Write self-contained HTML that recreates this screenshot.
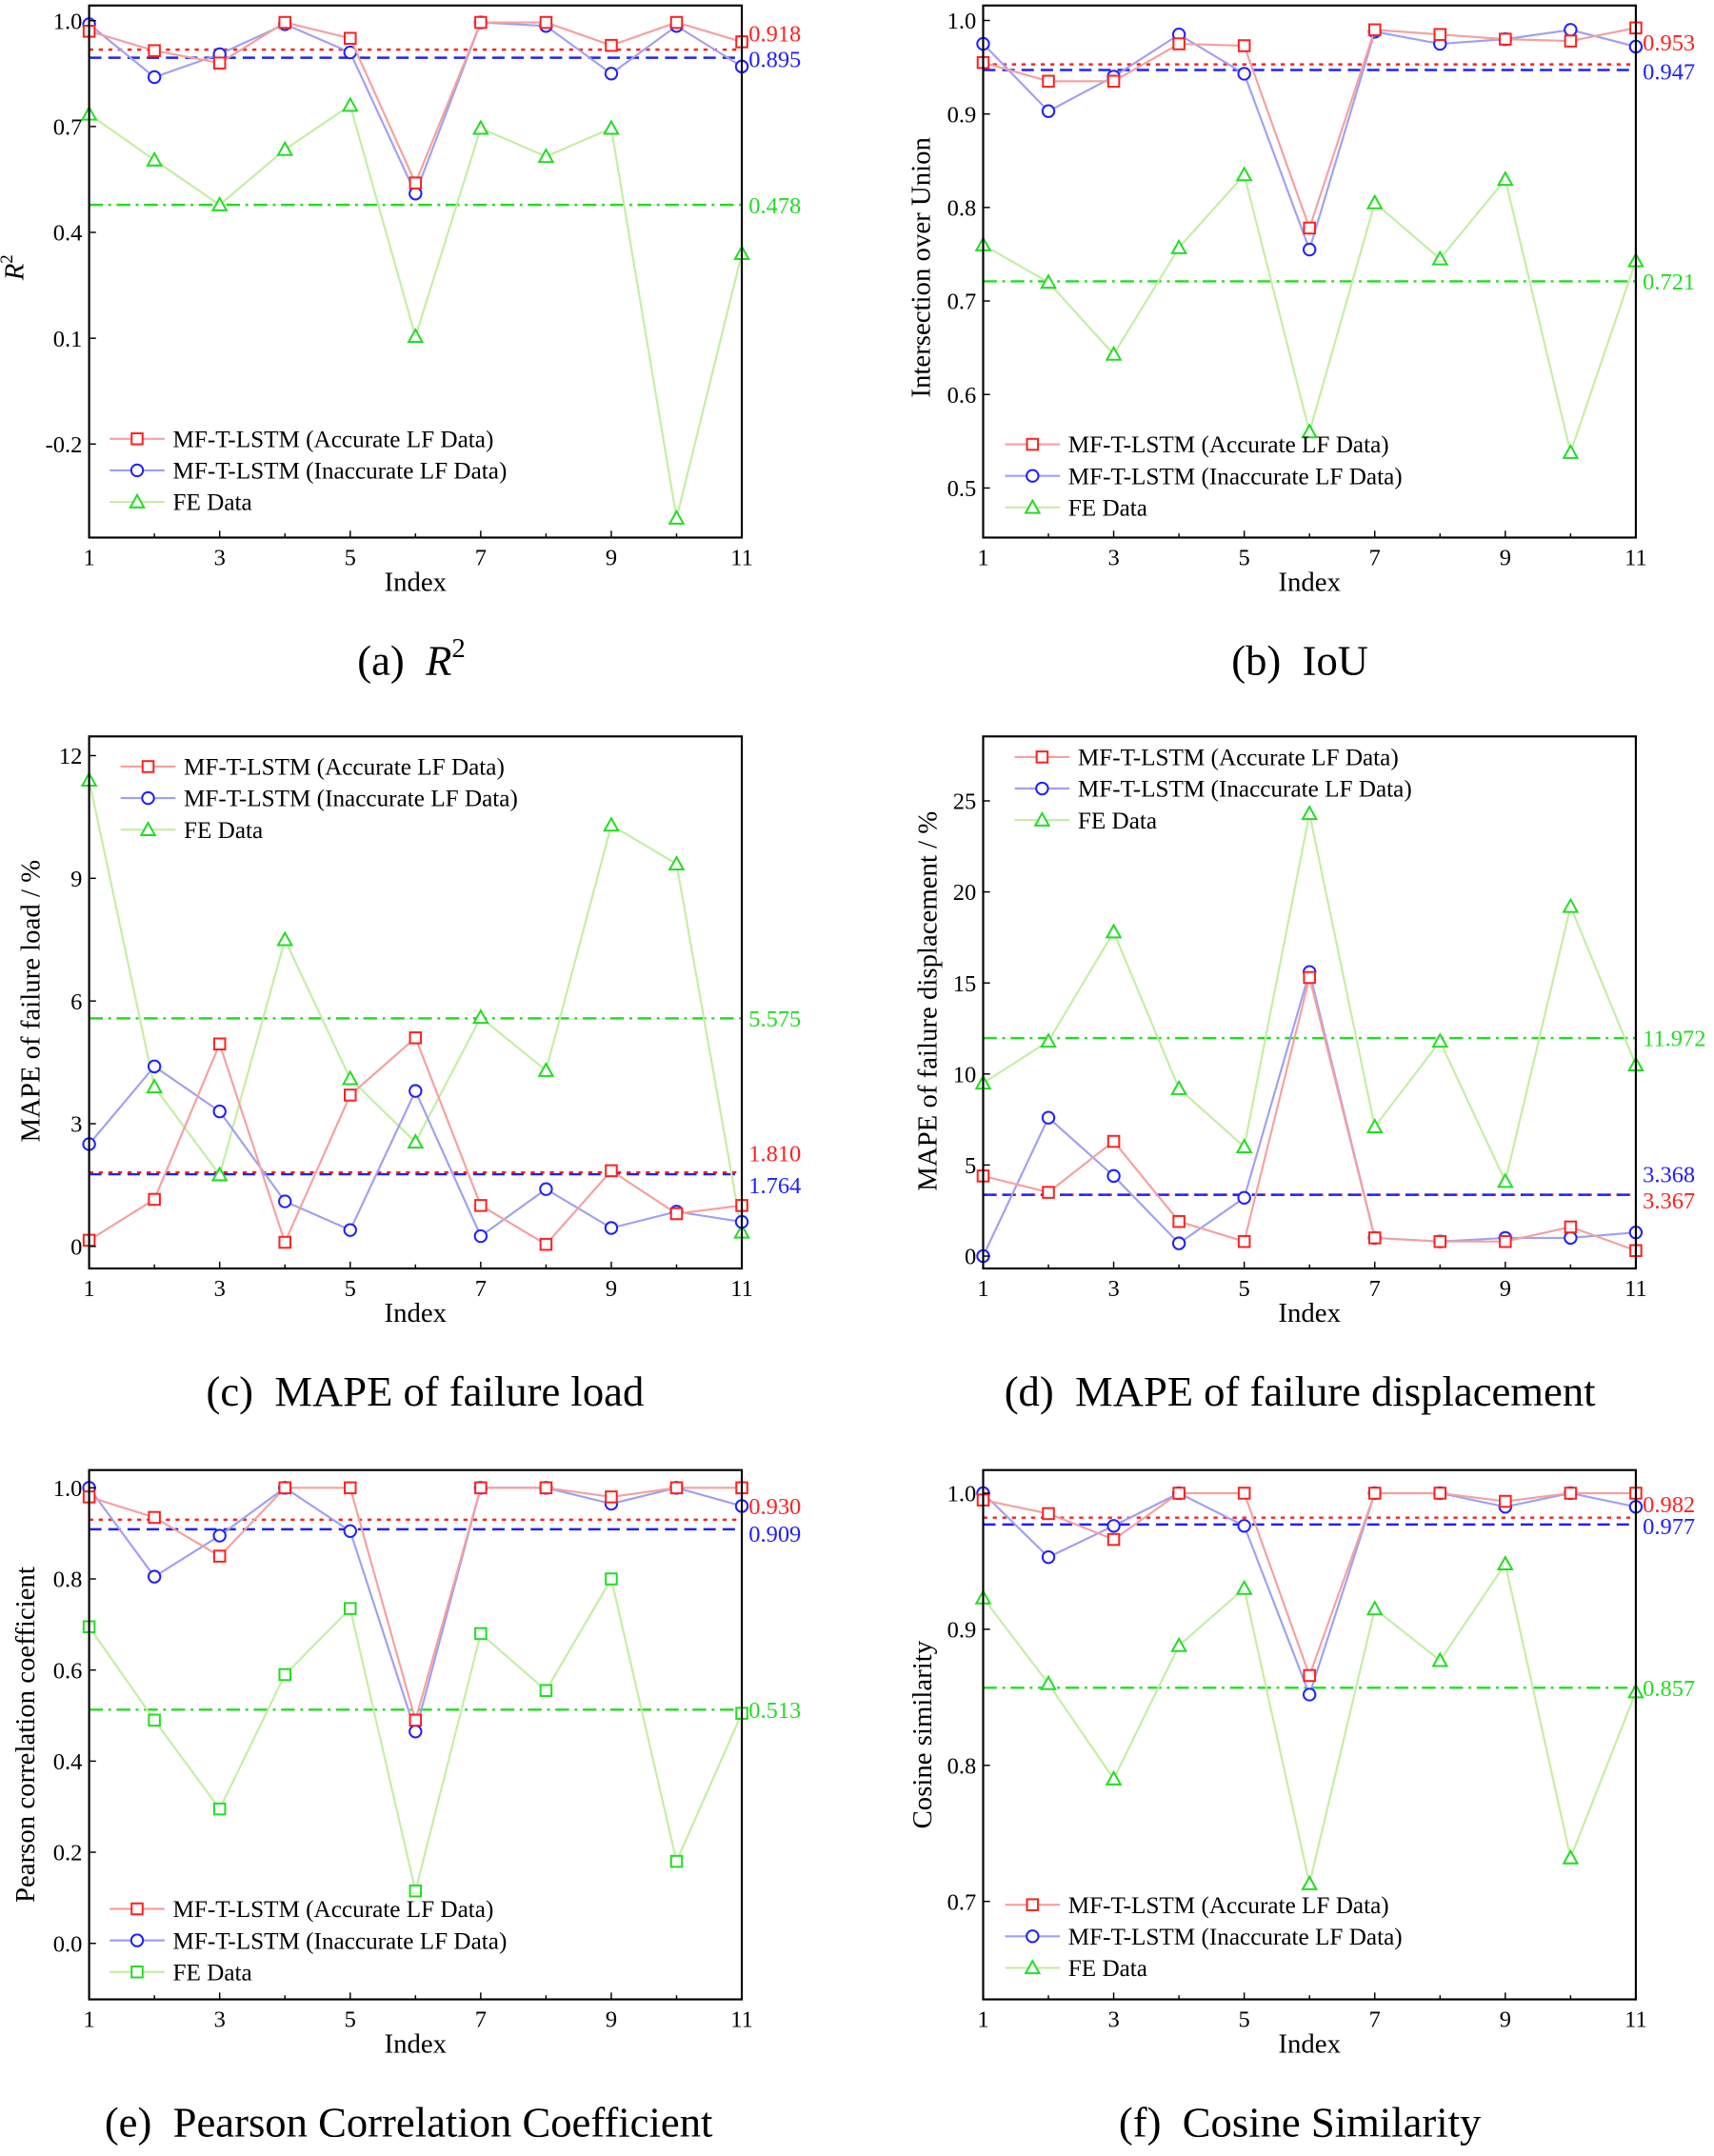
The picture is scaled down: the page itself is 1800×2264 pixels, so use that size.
<!DOCTYPE html>
<html><head><meta charset="utf-8"><style>
html,body{margin:0;padding:0;background:#fff;}
svg{display:block;font-family:"Liberation Serif",serif;}
</style></head><body>
<svg id="fig" width="1800" height="2264" viewBox="0 0 1250 1572.2" xmlns="http://www.w3.org/2000/svg"></svg>
<script>
const indexCats=[1,2,3,4,5,6,7,8,9,10,11];
const xTickLabels=[1,3,5,7,9,11];
// (a) R2
const aRed=[0.97,0.915,0.88,0.995,0.95,0.54,0.995,0.995,0.93,0.995,0.94];
const aBlue=[0.99,0.84,0.905,0.99,0.91,0.51,0.995,0.985,0.85,0.985,0.87];
const aGreen=[0.735,0.605,0.478,0.635,0.76,0.105,0.695,0.615,0.695,-0.41,0.34];
const aMeans=[0.918,0.895,0.478];
const aTicks=[-0.2,0.1,0.4,0.7,1.0];
// (b) IoU
const bRed=[0.955,0.935,0.935,0.975,0.973,0.778,0.99,0.985,0.98,0.978,0.992];
const bBlue=[0.975,0.903,0.94,0.985,0.943,0.755,0.988,0.975,0.98,0.99,0.972];
const bGreen=[0.76,0.72,0.643,0.757,0.835,0.56,0.805,0.745,0.83,0.538,0.743];
const bMeans=[0.953,0.947,0.721];
const bTicks=[0.5,0.6,0.7,0.8,0.9,1.0];
// (c) MAPE load
const cRed=[0.15,1.15,4.95,0.1,3.7,5.1,1.0,0.05,1.85,0.8,1.0];
const cBlue=[2.5,4.4,3.3,1.1,0.4,3.8,0.25,1.4,0.45,0.85,0.6];
const cGreen=[11.4,3.9,1.75,7.5,4.1,2.55,5.6,4.3,10.3,9.35,0.35];
const cMeans=[1.810,1.764,5.575];
const cTicks=[0,3,6,9,12];
// (d) MAPE displacement
const dRed=[4.4,3.5,6.3,1.9,0.8,15.3,1.0,0.8,0.8,1.6,0.3];
const dBlue=[0,7.6,4.4,0.7,3.2,15.6,1.0,0.8,1.0,1.0,1.3];
const dGreen=[9.5,11.8,17.8,9.2,6.0,24.3,7.1,11.8,4.1,19.2,10.5];
const dMeans=[3.367,3.368,11.972];
const dTicks=[0,5,10,15,20,25];
// (e) Pearson
const eRed=[0.98,0.935,0.85,1.0,1.0,0.49,1.0,1.0,0.98,1.0,1.0];
const eBlue=[1.0,0.805,0.895,1.0,0.905,0.465,1.0,1.0,0.965,1.0,0.96];
const eGreen=[0.695,0.49,0.295,0.59,0.735,0.115,0.68,0.555,0.8,0.18,0.505];
const eMeans=[0.930,0.909,0.513];
const eTicks=[0.0,0.2,0.4,0.6,0.8,1.0];
// (f) Cosine
const fRed=[0.995,0.985,0.966,1.0,1.0,0.866,1.0,1.0,0.994,1.0,1.0];
const fBlue=[1.0,0.953,0.976,1.0,0.976,0.852,1.0,1.0,0.99,1.0,0.99];
const fGreen=[0.923,0.86,0.79,0.888,0.93,0.713,0.915,0.877,0.948,0.732,0.854];
const fMeans=[0.982,0.977,0.857];
const fTicks=[0.7,0.8,0.9,1.0];

const NS="http://www.w3.org/2000/svg";
const svg=document.getElementById('fig');
function mk(tag,attrs,parent,text){const e=document.createElementNS(NS,tag);for(const k in attrs)e.setAttribute(k,attrs[k]);if(text!==undefined)e.textContent=text;(parent||svg).appendChild(e);return e;}
function fmt(v,dec){return v.toFixed(dec);}

const panels=[
 {id:'a',x0:65,x1:541,y0:4,y1:392,ymin:-0.465,ymax:1.043,red:aRed,blue:aBlue,green:aGreen,means:aMeans,ticks:aTicks,dec:1,mdec:3,title:'R',sup:true,tx:17,ty:195,leg:[80,320],moff:[-6,7],cap:'(a)\u00a0\u00a0',capx:300,capy:482,gm:'tri'},
 {id:'b',x0:717,x1:1193,y0:4,y1:392,ymin:0.447,ymax:1.016,red:bRed,blue:bBlue,green:bGreen,means:bMeans,ticks:bTicks,dec:1,mdec:3,title:'Intersection over Union',tx:678,ty:195,leg:[733,324],moff:[-10,7],cap:'(b)\u00a0\u00a0IoU',capx:948,capy:482,gm:'tri'},
 {id:'c',x0:65,x1:541,y0:537,y1:925,ymin:-0.54,ymax:12.47,red:cRed,blue:cBlue,green:cGreen,means:cMeans,ticks:cTicks,dec:0,mdec:3,title:'MAPE of failure load / %',tx:29,ty:730,leg:[88,559],moff:[-8,14],cap:'(c)\u00a0\u00a0MAPE of failure load',capx:310,capy:1015,gm:'tri'},
 {id:'d',x0:717,x1:1193,y0:537,y1:925,ymin:-0.68,ymax:28.54,red:dRed,blue:dBlue,green:dGreen,means:dMeans,ticks:dTicks,dec:0,mdec:3,title:'MAPE of failure displacement / %',tx:683,ty:730,leg:[740,552],moff:[10,-9],cap:'(d)\u00a0\u00a0MAPE of failure displacement',capx:948,capy:1015,gm:'tri'},
 {id:'e',x0:65,x1:541,y0:1072,y1:1458,ymin:-0.123,ymax:1.039,red:eRed,blue:eBlue,green:eGreen,means:eMeans,ticks:eTicks,dec:1,mdec:3,title:'Pearson correlation coefficient',tx:25,ty:1265,leg:[80,1392],moff:[-4,9],cap:'(e)\u00a0\u00a0Pearson Correlation Coefficient',capx:298,capy:1548,gm:'sq'},
 {id:'f',x0:717,x1:1193,y0:1072,y1:1458,ymin:0.628,ymax:1.017,red:fRed,blue:fBlue,green:fGreen,means:fMeans,ticks:fTicks,dec:1,mdec:3,title:'Cosine similarity',tx:679,ty:1265,leg:[733,1389],moff:[-4,7],cap:'(f)\u00a0\u00a0Cosine Similarity',capx:948,capy:1548,gm:'tri'}
];
const C={red:'#ff2020',blue:'#2020ff',green:'#22dd22',lred:'#f5a0a0',lblue:'#a0a0f2',lgreen:'#c4eea4'};
const names=['MF-T-LSTM (Accurate LF Data)','MF-T-LSTM (Inaccurate LF Data)','FE Data'];

function marker(g,type,x,y,col){
 if(type==='sq')return mk('rect',{x:x-4,y:y-4,width:8,height:8,fill:'#fff',stroke:col,'stroke-width':1.4},g);
 if(type==='ci')return mk('circle',{cx:x,cy:y,r:4.3,fill:'#fff',stroke:col,'stroke-width':1.4},g);
 return mk('polygon',{points:`${x},${y-5} ${x-5},${y+4} ${x+5},${y+4}`,fill:'#fff',stroke:col,'stroke-width':1.4},g);
}

panels.forEach(p=>{
 const g=mk('g',{});
 
 
 const X=i=>p.x0+(i-1)/10*(p.x1-p.x0);
 const Y=v=>p.y1-(v-p.ymin)/(p.ymax-p.ymin)*(p.y1-p.y0);
 const dashes=['3,4','9,5','10,4,2,4'];
 const mcol=[C.red,C.blue,C.green];
 p.means.forEach((m,k)=>{
  const l=mk('line',{x1:p.x0,x2:p.x1,y1:Y(m),y2:Y(m),stroke:mcol[k],'stroke-width':1.7,'stroke-dasharray':dashes[k]},g);
  
  
  let off=k===2?6:p.moff[k];
  const t=mk('text',{x:p.x1+5,y:Y(m)+off,fill:mcol[k],'font-size':17},g,fmt(m,p.mdec));
  
  
 });
 const series=[[p.red,C.lred,C.red,'sq'],[p.blue,C.lblue,C.blue,'ci'],[p.green,C.lgreen,C.green,p.gm]];
 series.slice().reverse().forEach((s,ri)=>{
  const k=2-ri;
  const pts=s[0].map((v,i)=>X(indexCats[i])+','+Y(v)).join(' ');
  const pl=mk('polyline',{points:pts,fill:'none',stroke:s[1],'stroke-width':1.5},g);
  
  
  s[0].forEach((v,i)=>{const m=marker(g,s[3],X(indexCats[i]),Y(v),s[2]);
   
   });
 });
 const fr=mk('rect',{x:p.x0,y:p.y0,width:p.x1-p.x0,height:p.y1-p.y0,fill:'none',stroke:'#000','stroke-width':1.5},g);
 
 
 p.ticks.forEach(v=>{
  mk('line',{x1:p.x0,x2:p.x0+5,y1:Y(v),y2:Y(v),stroke:'#000','stroke-width':1},g);
  const t=mk('text',{x:p.x0-5,y:Y(v)+6,'text-anchor':'end','font-size':17},g,fmt(v,p.dec));
  
  
 });
 indexCats.forEach(i=>{mk('line',{x1:X(i),x2:X(i),y1:p.y1,y2:p.y1-(xTickLabels.includes(i)?5:3),stroke:'#000','stroke-width':1},g);});
 xTickLabels.forEach(i=>{
  const t=mk('text',{x:X(i),y:p.y1+20,'text-anchor':'middle','font-size':17},g,i);
  
  
 });
 const xt=mk('text',{x:(p.x0+p.x1)/2,y:p.y1+39,'text-anchor':'middle','font-size':20},g,'Index');
 
 
 const yt=mk('text',{x:p.tx,y:p.ty,'text-anchor':'middle','font-size':20,transform:`rotate(-90 ${p.tx} ${p.ty})`},g);
 
 
 if(p.sup){yt.setAttribute('font-style','italic');yt.textContent='R';mk('tspan',{dy:-8,'font-size':13,'font-style':'normal'},yt,'2');}
 else yt.textContent=p.title;
 const lg=mk('g',{},g);
 
 
 series.forEach((s,k)=>{
  const ly=p.leg[1]+k*23;
  mk('line',{x1:p.leg[0],x2:p.leg[0]+40,y1:ly,y2:ly,stroke:s[1],'stroke-width':1.5},lg);
  marker(lg,s[3],p.leg[0]+20,ly,s[2]);
  const t=mk('text',{x:p.leg[0]+46,y:ly+6,'font-size':17.5},lg,names[k]);
  
  
 });
 const cp=mk('text',{x:p.capx,y:p.capy+10,'text-anchor':'middle','font-size':31},g);
 
 
 if(p.sup){cp.textContent='(a)\u00a0\u00a0';mk('tspan',{'font-style':'italic'},cp,'R');mk('tspan',{dy:-13,'font-size':20},cp,'2');}
 else cp.textContent=p.cap;
});
</script>
</body></html>
